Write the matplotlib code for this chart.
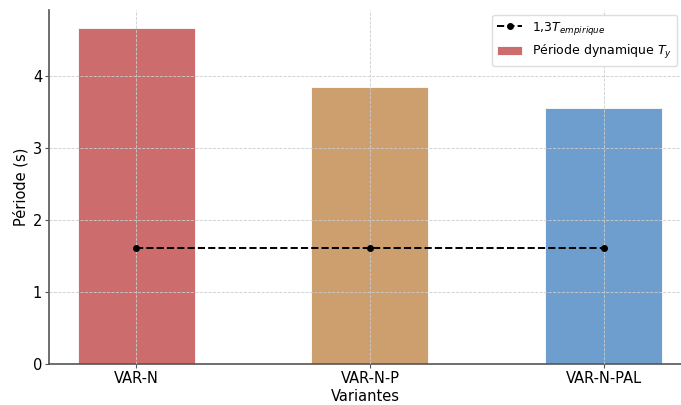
import matplotlib
matplotlib.use("Agg")
import matplotlib.pyplot as plt
import numpy as np

variantes = ["VAR-N", "VAR-N-P", "VAR-N-PAL"]
periode_dyn = [4.66, 3.84, 3.55]
t_empirique = [1.61, 1.61, 1.61]
couleurs = ["#CD6C6C", "#CD9E6E", "#6D9ECE"]

fig = plt.figure(figsize=(6.81, 4.05), dpi=100)
ax = fig.add_axes([0.072, 0.101, 0.928, 0.874])

x = np.arange(len(variantes))
ax.bar(x, periode_dyn, width=0.5, color=couleurs, edgecolor="white", linewidth=0.6,
       label="Période dynamique $T_y$", zorder=2)
ax.plot(x, t_empirique, "k--o", markersize=4, linewidth=1.4,
        label="1,3$T_{empirique}$", zorder=3)

ax.set_xticks(x)
ax.set_xticklabels(variantes, fontsize=10.5)
ax.tick_params(axis="both", labelsize=10.5, length=3, pad=2, color="#555555")
ax.set_xlabel("Variantes", fontsize=10.5, labelpad=2)
ax.set_ylabel("Période (s)", fontsize=10.5, labelpad=3)
ax.set_xlim(-0.372, 2.33)
ax.set_ylim(0, 4.91)
ax.grid(True, linestyle="--", linewidth=0.6, color="#cccccc", zorder=0)
ax.set_axisbelow(False)
for s in ["top", "right"]:
    ax.spines[s].set_visible(False)
for s in ["left", "bottom"]:
    ax.spines[s].set_color("#555555")
    ax.spines[s].set_linewidth(1.2)

leg = ax.legend(loc="upper right", bbox_to_anchor=(1.0, 0.997), fontsize=9,
                framealpha=1, edgecolor="#dddddd", borderaxespad=0.3)

fig.savefig("out.png", dpi=100)
